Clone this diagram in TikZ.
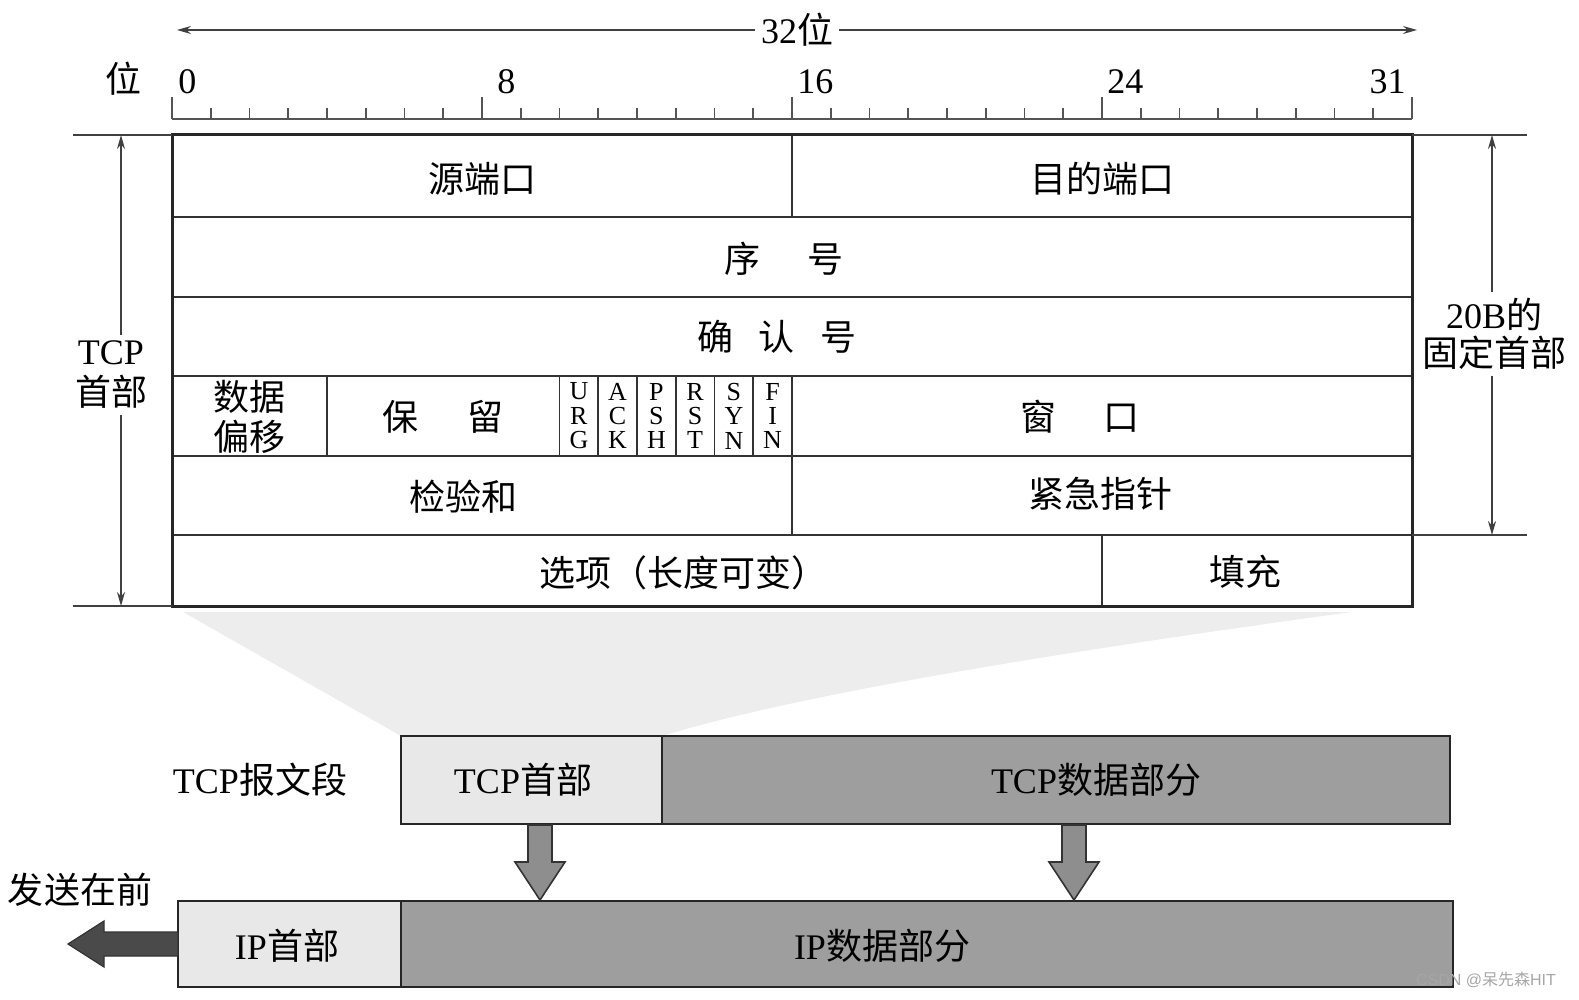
\documentclass[tikz,border=0pt]{standalone}
\usepackage{fontspec}
\setmainfont{Liberation Serif}
\newfontfamily\cjk{Noto Sans CJK SC}
\newfontfamily\wmfont{Liberation Sans}
\usetikzlibrary{arrows.meta}
\newcommand\zhs[1]{{\cjk #1}}
\definecolor{lightfill}{HTML}{E8E8E8}
\definecolor{darkfill}{HTML}{9E9E9E}
\definecolor{trapfill}{HTML}{EDEDED}
\definecolor{dnfill}{HTML}{8E8E8E}
\definecolor{leftfill}{HTML}{4A4A4A}
\definecolor{rulecol}{HTML}{555555}
\begin{document}
\begin{tikzpicture}[x=0.5pt,y=-0.5pt,
  lab/.style={font=\fontsize{18}{20}\selectfont, inner sep=0pt, align=center},
  flag/.style={font=\fontsize{13}{12.2}\selectfont, inner sep=0pt, align=center},
  tick/.style={font=\fontsize{18}{20}\selectfont, inner sep=0pt},
  outerline/.style={line width=1.5pt, draw=black!85},
  innerline/.style={line width=0.9pt, draw=black!80},
  rul/.style={line width=0.8pt, draw=rulecol},
  dim/.style={line width=0.8pt, draw=black!75},
  tipa/.style={-{Stealth[length=7pt,width=4pt]}},
  barbox/.style={line width=1.3pt, draw=black!85},
  blockarrow/.style={line width=0.8pt, draw=black!80}
]
\useasboundingbox (0,0) rectangle (1579,1000);

% ---------- 32 bit arrow ----------
\node[lab] (w32) at (797,30) {32\zhs{位}};
\coordinate (w32l) at (177,30);
\coordinate (w32r) at (1417,30);
\draw[dim,tipa] (w32.west) ++(-6,0) -- (w32l);
\draw[dim,tipa] (w32.east) ++(6,0) -- (w32r);

% ---------- ruler ----------
\node[lab] (wei) at (123,79) {\zhs{位}};
\draw[rul] (172,119) -- (1412,119);
\foreach \i in {0,...,32}{
  \pgfmathsetmacro\xx{172+\i*38.75}
  \pgfmathtruncatemacro\m{mod(\i,8)}
  \ifnum\m=0 \draw[rul] (\xx,97) -- (\xx,119); \else \draw[rul] (\xx,108) -- (\xx,119); \fi
}
\node[tick,anchor=base west] (t0) at (178,94) {0};
\node[tick,anchor=base west] (t8) at (497,94) {8};
\node[tick,anchor=base west] (t16) at (797,94) {16};
\node[tick,anchor=base west] (t24) at (1107,94) {24};
\node[tick,anchor=base east] (t31) at (1406,94) {31};

% ---------- header table ----------
\draw[innerline] (172,217) -- (1412,217);
\draw[innerline] (172,297) -- (1412,297);
\draw[innerline] (172,376) -- (1412,376);
\draw[innerline] (172,456) -- (1412,456);
\draw[innerline] (172,535) -- (1412,535);
% verticals
\draw[innerline] (792,135) -- (792,217);
\foreach \b in {4,10,11,12,13,14,15,16}{
  \pgfmathsetmacro\xx{172+\b*38.75}
  \draw[innerline] (\xx,376) -- (\xx,456);
}
\draw[innerline] (792,456) -- (792,535);
\draw[innerline] (1102,535) -- (1102,606);
\draw[outerline] (172,135) rectangle (1412,606);

% cell texts
\node[lab] (src) at (482,179) {\zhs{源端口}};
\node[lab] (dst) at (1102,179) {\zhs{目的端口}};
\node[lab] (seq) at (784,259) {\zhs{序\hspace{1.3em}号}};
\node[lab] (ack) at (777,337) {\zhs{确\hspace{0.7em}认\hspace{0.7em}号}};
\node[lab, font=\fontsize{18}{20}\selectfont] (off) at (249,417) {\zhs{数据}\\\zhs{偏移}};
\node[lab] (rsv) at (443,417) {\zhs{保\hspace{1.35em}留}};
\node[flag] (urg) at (578.9,416) {U\\R\\G};
\node[flag] (ackf) at (617.6,416) {A\\C\\K};
\node[flag] (psh) at (656.4,416) {P\\S\\H};
\node[flag] (rst) at (695.1,416) {R\\S\\T};
\node[flag] (syn) at (733.9,416) {S\\Y\\N};
\node[flag] (fin) at (772.6,416) {F\\I\\N};
\node[lab] (win) at (1080,417) {\zhs{窗\hspace{1.3em}口}};
\node[lab] (chk) at (463,497) {\zhs{检验和}};
\node[lab] (urgp) at (1100,494) {\zhs{紧急指针}};
\node[lab] (opt) at (683,573) {\zhs{选项（长度可变）}};
\node[lab] (pad) at (1245,572) {\zhs{填充}};

% ---------- dimension lines ----------
\draw[dim] (73,135) -- (172,135);
\draw[dim] (73,606) -- (172,606);
\draw[dim] (1412,135) -- (1527,135);
\draw[dim] (1412,535) -- (1527,535);
\node[lab, font=\fontsize{18}{20.5}\selectfont] (tcph) at (111,375) {TCP\\\zhs{首部}};
\coordinate (lt) at (121,135);
\coordinate (lb) at (121,606);
\draw[dim,tipa] (lt |- tcph.north) ++(0,-6) -- (lt);
\draw[dim,tipa] (lb |- tcph.south) ++(0,6) -- (lb);
\node[lab, font=\fontsize{18}{19}\selectfont] (fix) at (1494,334) {20B\zhs{的}\\\zhs{固定首部}};
\coordinate (rt) at (1492,135);
\coordinate (rb) at (1492,535);
\draw[dim,tipa] (rt |- fix.north) ++(0,-6) -- (rt);
\draw[dim,tipa] (rb |- fix.south) ++(0,6) -- (rb);

% ---------- zoom trapezoid ----------
\fill[trapfill] (183,612) -- (1352,612) .. controls (1000,660) and (780,700) .. (662,736) -- (401,736) -- cycle;

% ---------- TCP segment bar ----------
\node[lab] (seglab) at (260,780) {TCP\zhs{报文段}};
\fill[lightfill] (401,736) rectangle (662,824);
\fill[darkfill] (662,736) rectangle (1450,824);
\draw[barbox] (401,736) rectangle (1450,824);
\draw[barbox] (662,736) -- (662,824);
\node[lab] (tcphdr) at (523,780) {TCP\zhs{首部}};
\node[lab] (tcpdata) at (1096,780) {TCP\zhs{数据部分}};

% ---------- IP datagram bar ----------
\fill[lightfill] (178,901) rectangle (401,987);
\fill[darkfill] (401,901) rectangle (1453,987);
\draw[barbox] (178,901) rectangle (1453,987);
\draw[barbox] (401,901) -- (401,987);
\node[lab] (iphdr) at (287,946) {IP\zhs{首部}};
\node[lab] (ipdata) at (882,946) {IP\zhs{数据部分}};

% ---------- down block arrows ----------
\filldraw[blockarrow, fill=dnfill] (528,825) -- (552,825) -- (552,862) -- (565,862) -- (540,900) -- (515,862) -- (528,862) -- cycle;
\filldraw[blockarrow, fill=dnfill] (1062,825) -- (1086,825) -- (1086,862) -- (1099,862) -- (1074,900) -- (1049,862) -- (1062,862) -- cycle;

% ---------- left block arrow ----------
\node[lab] (first) at (80,890) {\zhs{发送在前}};
\filldraw[line width=0.6pt, draw=black!80, fill=leftfill] (178,932) -- (104,932) -- (104,921) -- (68,944) -- (104,967) -- (104,956) -- (178,956) -- cycle;

% ---------- watermark ----------
\node[inner sep=0pt, font=\fontsize{8}{9}\selectfont, text=black!35] (wm) at (1486,980) {\wmfont CSDN @\zhs{呆先森}HIT};
\end{tikzpicture}
\end{document}
